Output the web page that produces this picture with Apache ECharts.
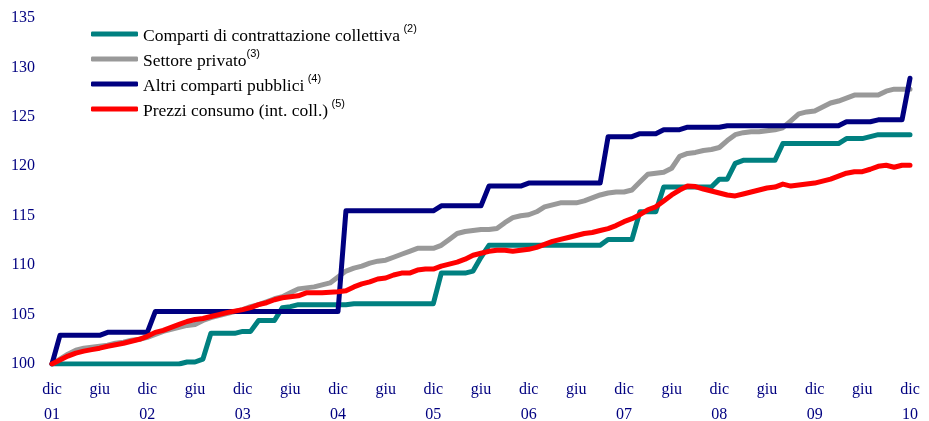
<!DOCTYPE html>
<html>
<head>
<meta charset="utf-8">
<script src="https://cdn.jsdelivr.net/npm/echarts@6/dist/echarts.min.js"></script>
<style>
html,body{margin:0;padding:0;background:#fff;}
#chart{width:929px;height:421px;}
</style>
</head>
<body>
<div id="chart"></div>
<script>
// Monthly categories, dic 2001 .. dic 2010
const monthNames = ['gen','feb','mar','apr','mag','giu','lug','ago','set','ott','nov','dic'];
const categories = [];
for (let i = 0; i < 109; i++) {
  const m = (11 + i) % 12;
  const y = 2001 + Math.floor((11 + i) / 12);
  categories.push(monthNames[m] + ' ' + String(y % 100).padStart(2, '0'));
}

const yTicks = [100, 105, 110, 115, 120, 125, 130, 135];

const contrattazione = [
  100.0,100.0,100.0,100.0,100.0,100.0,100.0,100.0,100.0,100.0,100.0,100.0,100.0,100.0,100.0,100.0,100.0,
  100.2,100.2,100.5,
  103.1,103.1,103.1,103.1,103.3,103.3,
  104.4,104.4,104.4,105.7,105.8,
  106.0,106.0,106.0,106.0,106.0,106.0,106.0,
  106.1,106.1,106.1,106.1,106.1,106.1,106.1,106.1,106.1,106.1,106.1,
  109.2,109.2,109.2,109.2,109.4,110.8,
  112.0,112.0,112.0,112.0,112.0,112.0,112.0,112.0,112.0,112.0,112.0,112.0,112.0,112.0,112.0,
  112.6,112.6,112.6,112.6,
  115.4,115.4,115.4,
  117.9,117.9,117.9,117.9,117.9,117.9,117.9,
  118.7,118.7,120.3,
  120.6,120.6,120.6,120.6,120.6,
  122.3,122.3,122.3,122.3,122.3,122.3,122.3,122.3,
  122.8,122.8,122.8,123.0,
  123.2,123.2,123.2,123.2,123.2
];

const privato = [
  100.0,100.5,101.0,101.4,101.6,101.7,101.8,101.9,102.1,102.2,102.4,102.5,102.7,
  103.0,103.3,103.5,103.7,103.9,104.0,104.4,104.7,104.9,105.1,105.3,105.5,
  105.8,106.0,106.3,106.6,106.8,107.2,107.6,107.7,107.8,108.0,108.2,108.8,
  109.4,109.7,109.9,110.2,110.4,110.5,110.8,111.1,111.4,111.7,111.7,111.7,
  112.0,112.6,113.2,113.4,113.5,113.6,113.6,113.7,114.3,114.8,115.0,115.1,
  115.4,115.9,116.1,116.3,116.3,116.3,116.5,116.8,117.1,117.3,117.4,117.4,
  117.6,118.4,119.2,119.3,119.4,119.8,121.0,121.3,121.4,121.6,121.7,121.9,
  122.6,123.2,123.4,123.5,123.5,123.6,123.7,123.9,124.6,125.3,125.5,125.6,
  126.0,126.4,126.6,126.9,127.2,127.2,127.2,127.2,127.6,127.8,127.8,127.8
];

const altriPubblici = [
  100.0,
  102.9,102.9,102.9,102.9,102.9,102.9,
  103.2,103.2,103.2,103.2,103.2,103.2,
  105.3,105.3,105.3,105.3,105.3,105.3,105.3,105.3,105.3,105.3,105.3,105.3,
  105.3,105.3,105.3,105.3,105.3,105.3,105.3,105.3,105.3,105.3,105.3,105.3,
  115.5,115.5,115.5,115.5,115.5,115.5,115.5,115.5,115.5,115.5,115.5,115.5,
  116.0,116.0,116.0,116.0,116.0,116.0,
  118.0,118.0,118.0,118.0,118.0,
  118.3,118.3,118.3,118.3,118.3,118.3,118.3,118.3,118.3,118.3,
  123.0,123.0,123.0,123.0,
  123.3,123.3,123.3,
  123.7,123.7,123.7,
  123.95,123.95,123.95,123.95,123.95,
  124.1,124.1,124.1,124.1,124.1,124.1,124.1,124.1,124.1,124.1,124.1,124.1,124.1,124.1,124.1,
  124.5,124.5,124.5,124.5,
  124.7,124.7,124.7,124.7,
  128.9
];

const prezziConsumo = [
  100.0,100.4,100.8,101.1,101.3,101.45,101.6,101.8,101.95,102.1,102.3,102.5,102.8,
  103.2,103.4,103.7,104.0,104.3,104.5,104.6,104.8,105.0,105.2,105.35,105.5,
  105.7,106.0,106.2,106.5,106.7,106.8,106.9,107.2,107.2,107.2,107.25,107.3,
  107.4,107.8,108.1,108.3,108.6,108.7,109.0,109.2,109.2,109.5,109.6,109.6,
  109.9,110.1,110.3,110.6,111.0,111.2,111.4,111.5,111.5,111.4,111.5,111.6,
  111.8,112.1,112.4,112.6,112.8,113.0,113.2,113.3,113.5,113.7,114.0,114.4,
  114.7,115.1,115.6,115.9,116.5,117.1,117.6,118.0,117.95,117.7,117.5,117.3,
  117.1,117.0,117.2,117.4,117.6,117.8,117.9,118.2,118.0,118.1,118.2,118.3,
  118.5,118.7,119.0,119.3,119.45,119.45,119.7,120.0,120.1,119.9,120.1,120.1
];

const names = [
  'Comparti di contrattazione collettiva',
  'Settore privato',
  'Altri comparti pubblici',
  'Prezzi consumo (int. coll.)'
];
const notes = {
  'Comparti di contrattazione collettiva': ' {a|(2)}',
  'Settore privato': '{a|(3)}',
  'Altri comparti pubblici': ' {b|(4)}',
  'Prezzi consumo (int. coll.)': ' {b|(5)}'
};
const colors = ['#008080', '#999999', '#000080', '#ff0000'];
const seriesData = [contrattazione, privato, altriPubblici, prezziConsumo];

const chart = echarts.init(document.getElementById('chart'));
chart.setOption({
  animation: false,
  backgroundColor: '#ffffff',
  grid: { left: 52, right: 19, top: 18, bottom: 57, containLabel: false, outerBoundsMode: 'none' },
  legend: {
    orient: 'vertical',
    left: 91,
    top: 23,
    padding: 0,
    itemWidth: 47,
    itemHeight: 5,
    itemGap: 3,
    icon: 'roundRect',
    data: names,
    formatter: function (n) { return '{t|' + n + '}' + notes[n]; },
    textStyle: {
      rich: {
        t: { fontFamily: 'Liberation Serif', fontSize: 17.5, color: '#000', lineHeight: 22, verticalAlign: 'bottom' },
        a: { fontFamily: 'Liberation Sans', fontSize: 11, color: '#000', lineHeight: 22, verticalAlign: 'top', padding: [0, 0, 0, 0] },
        b: { fontFamily: 'Liberation Sans', fontSize: 11, color: '#000', lineHeight: 22, verticalAlign: 'top', padding: [0, 0, 10, 0] }
      }
    }
  },
  xAxis: {
    type: 'category',
    data: categories,
    boundaryGap: false,
    axisLine: { show: false },
    axisTick: { show: false },
    splitLine: { show: false },
    axisLabel: {
      interval: function (idx) { return idx % 6 === 0; },
      margin: 13,
      color: '#000080',
      fontFamily: 'Liberation Serif',
      fontSize: 16,
      lineHeight: 25,
      formatter: function (v) {
        const p = v.split(' ');
        if (p[0] === 'dic') return p[0] + '\n' + p[1];
        if (p[0] === 'giu') return p[0];
        return '';
      }
    }
  },
  yAxis: {
    type: 'value',
    min: yTicks[0],
    max: yTicks[yTicks.length - 1],
    interval: 5,
    axisLine: { show: false },
    axisTick: { show: false },
    splitLine: { show: false },
    axisLabel: {
      margin: 17,
      color: '#000080',
      fontFamily: 'Liberation Serif',
      fontSize: 16
    }
  },
  series: names.map(function (n, k) {
    return {
      name: n,
      type: 'line',
      data: seriesData[k],
      showSymbol: false,
      symbol: 'none',
      color: colors[k],
      lineStyle: { width: 5, color: colors[k], join: 'round', cap: 'round' },
      z: 2 + k
    };
  })
});
</script>
</body>
</html>
